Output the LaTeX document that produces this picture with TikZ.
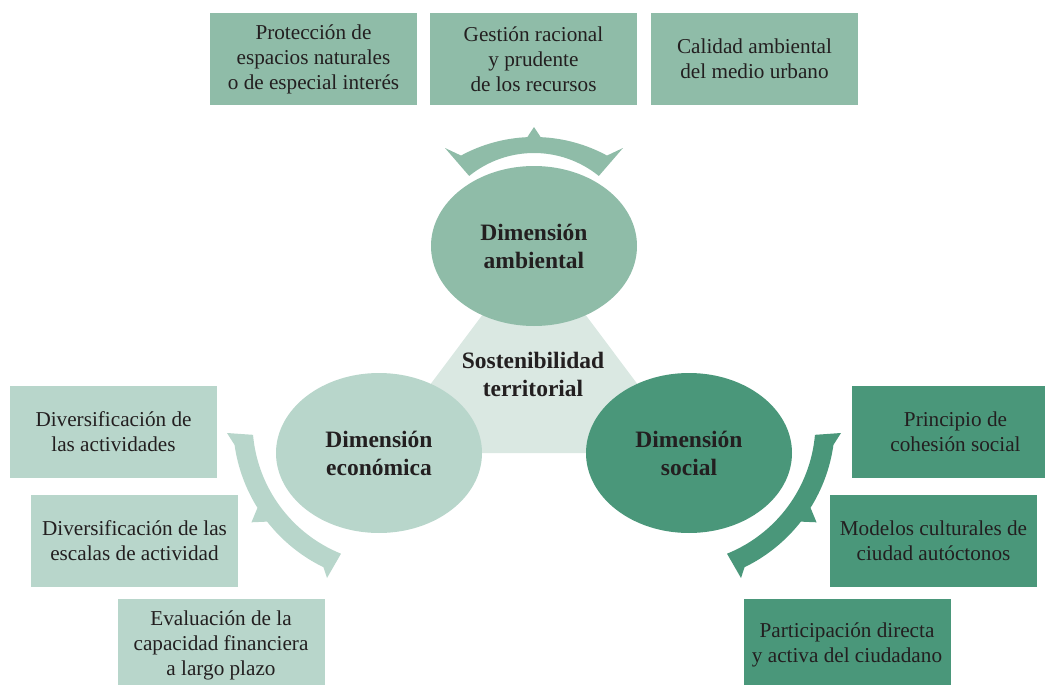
\documentclass[tikz,border=0pt]{standalone}
\usepackage{fontspec}
\setmainfont{Liberation Serif}
\usepackage{tikz}
\usetikzlibrary{shapes.geometric,calc}
\definecolor{ambcol}{HTML}{8FBCA8}
\definecolor{ecocol}{HTML}{B8D6CB}
\definecolor{soccol}{HTML}{4A977A}
\definecolor{tricol}{HTML}{DAE8E2}
\definecolor{txtcol}{HTML}{231F20}

\begin{document}
\begin{tikzpicture}[x=1pt,y=-1pt,
  dim/.style={ellipse, fill=#1, minimum width=206pt, minimum height=160pt, inner sep=0pt,
    align=center, text=txtcol, font=\fontsize{23.5}{28}\selectfont\bfseries},
  item/.style={fill=#1, minimum width=207pt, minimum height=92pt, inner sep=0pt,
    align=center, text=txtcol, font=\fontsize{21.2}{25}\selectfont}]
\useasboundingbox (0,0) rectangle (1045,685);

\coordinate (ca) at (534,246);
\coordinate (ce) at (379,453);
\coordinate (cs) at (689,453);
% centres of the curved arrows
\coordinate (ai) at (534,256);
\coordinate (ao) at (534,290);
\coordinate (ec) at (394,422.5);
\coordinate (sc) at (674,422.5);

\fill[tricol] (ca) -- (ce) -- (cs) -- cycle;

% curved arrows
\fill[ambcol] ($(ao)+(-118.5:153)$) arc[start angle=-118.5, end angle=-92.5, radius=153]
  -- (534,127) -- ($(ao)+(-87.5:153)$) arc[start angle=-87.5, end angle=-61.5, radius=153]
  -- (623,148) -- ($(ai)+(-51:103)$) arc[start angle=-51, end angle=-129, radius=103]
  -- (445,148) -- cycle;
\fill[ecocol] ($(ec)+(172:161)$) arc[start angle=172, end angle=148, radius=161]
  -- ($(ec)+(145:174)$) -- ($(ec)+(142:161)$) arc[start angle=142, end angle=116, radius=161]
  -- (327,578) -- ($(ec)+(112:141.5)$) arc[start angle=112, end angle=175, radius=141.5]
  -- (227,433) -- cycle;
\fill[soccol] ($(sc)+(8:161)$) arc[start angle=8, end angle=32, radius=161]
  -- ($(sc)+(35:174)$) -- ($(sc)+(38:161)$) arc[start angle=38, end angle=64, radius=161]
  -- (741,578) -- ($(sc)+(68:141.5)$) arc[start angle=68, end angle=5, radius=141.5]
  -- (841,433) -- cycle;

\node[text=txtcol, align=center, font=\fontsize{23.5}{28}\selectfont\bfseries] (st) at (533,374) {Sostenibilidad\\territorial};

\node[dim=ambcol] (a) at (ca) {Dimensión\\ambiental};
\node[dim=ecocol] (e) at (ce) {Dimensión\\económica};
\node[dim=soccol] (s) at (cs) {Dimensión\\social};

\node[item=ambcol] (a1) at (313.5,59) {Protección de\\espacios naturales\\o de especial interés};
\node[item=ambcol] (a2) at (533.5,59) {Gestión racional\\y prudente\\de los recursos};
\node[item=ambcol] (a3) at (754.5,59) {Calidad ambiental\\del medio urbano};

\node[item=ecocol] (e1) at (113.5,432) {Diversificación de\\las actividades};
\node[item=ecocol] (e2) at (134.5,540.5) {Diversificación de las\\escalas de actividad};
\node[item=ecocol] (e3) at (221,645) {Evaluación de la\\capacidad financiera\\a largo plazo};

\node[item=soccol] (s1) at (955.5,432) {Principio de\\cohesión social};
\node[item=soccol] (s2) at (933.5,540.5) {Modelos culturales de\\ciudad autóctonos};
\node[item=soccol] (s3) at (847,645) {Participación directa\\y activa del ciudadano};
\end{tikzpicture}
\end{document}
